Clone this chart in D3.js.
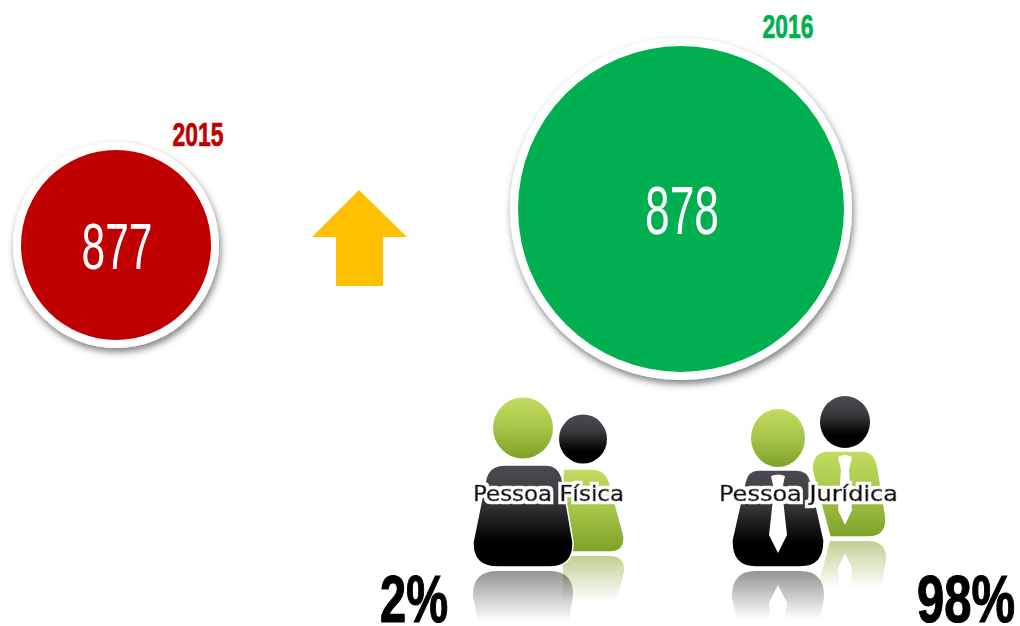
<!DOCTYPE html>
<meta charset="utf-8">
<style>
body { margin: 0; background: #fff; }
svg { display: block; }
.narrow { font-family: "Liberation Sans Narrow", "Liberation Sans", sans-serif; text-anchor: middle; }
.who { font-family: "DejaVu Sans", sans-serif; font-size: 22px; text-anchor: middle; fill: #111;
  stroke: #111; stroke-width: 0.7px; }
</style>
<svg width="1020" height="626" id="mysvg"></svg>
<script src="https://d3js.org/d3.v7.min.js"></script>
<script>

var years = ["2015", "2016"];
var totals = [877, 878];
var yearColors = ["#C00000", "#00B050"];
var people = ["Pessoa Física", "Pessoa Jurídica"];
var shares = ["2%", "98%"];

var svg = d3.select("svg");
var defs = svg.append("defs");

// circle position and size: the two circles are not really to scale in the picture
var x = d3.scaleOrdinal(years, [116, 681]);
var y = d3.scaleOrdinal(years, [245, 209]);
var r = d3.scaleLinear([877, 878], [95, 163]);

function gradient(id, stops) {
  var g = defs.append("linearGradient").attr("id", id)
    .attr("x1", 0).attr("y1", 0).attr("x2", 0).attr("y2", 1);
  stops.forEach(function(s) {
    g.append("stop").attr("offset", s[0]).attr("stop-color", s[1]).attr("stop-opacity", s[2] === undefined ? 1 : s[2]);
  });
}
gradient("dark", [[0, "#4b4a52"], [0.35, "#3a3a3e"], [0.75, "#000"], [1, "#000"]]);
gradient("green", [[0, "#c2dc60"], [0.45, "#a8c84a"], [1, "#7fa128"]]);
gradient("reflDark", [[0, "#000", 0], [0.5, "#000", 0], [1, "#000", 0.42]]);
gradient("reflGreen", [[0, "#7fa128", 0], [0.45, "#7fa128", 0], [1, "#7fa128", 0.5]]);

var shadow = defs.append("filter").attr("id", "shadow")
  .attr("x", "-20%").attr("y", "-20%").attr("width", "140%").attr("height", "140%");
shadow.append("feDropShadow").attr("dx", 1.5).attr("dy", 4).attr("stdDeviation", 3.5)
  .attr("flood-color", "#000").attr("flood-opacity", 0.5);

// white halo around the two people labels
var halo = defs.append("filter").attr("id", "halo")
  .attr("x", "-5%").attr("y", "-30%").attr("width", "110%").attr("height", "160%");
halo.append("feMorphology").attr("in", "SourceAlpha").attr("operator", "dilate").attr("radius", 3).attr("result", "fat");
halo.append("feFlood").attr("flood-color", "#fff");
halo.append("feComposite").attr("in2", "fat").attr("operator", "in").attr("result", "white");
var haloMerge = halo.append("feMerge");
haloMerge.append("feMergeNode").attr("in", "white");
haloMerge.append("feMergeNode").attr("in", "SourceGraphic");

// circles
var circles = svg.selectAll(".total").data(years).enter().append("g").attr("class", "total");

circles.append("circle")
  .attr("cx", function(d) { return x(d); })
  .attr("cy", function(d) { return y(d); })
  .attr("r", function(d, i) { return r(totals[i]) + 8; })
  .attr("fill", "#fff")
  .attr("filter", "url(#shadow)");

circles.append("circle")
  .attr("cx", function(d) { return x(d); })
  .attr("cy", function(d) { return y(d); })
  .attr("r", function(d, i) { return r(totals[i]); })
  .attr("fill", function(d, i) { return yearColors[i]; });

var totalWidth = [71, 74], totalBase = [269, 234], totalSize = [65, 69];
circles.append("text").attr("class", "narrow")
  .attr("x", function(d) { return x(d) + 1; })
  .attr("y", function(d, i) { return totalBase[i]; })
  .attr("font-size", function(d, i) { return totalSize[i]; })
  .attr("textLength", function(d, i) { return totalWidth[i]; })
  .attr("lengthAdjust", "spacingAndGlyphs")
  .attr("fill", "#fff")
  .text(function(d, i) { return totals[i]; });

var yearX = [198, 788], yearBase = [146, 38];
circles.append("text").attr("class", "narrow")
  .attr("x", function(d, i) { return yearX[i]; })
  .attr("y", function(d, i) { return yearBase[i]; })
  .attr("font-size", 33)
  .attr("font-weight", "bold")
  .attr("textLength", 51)
  .attr("lengthAdjust", "spacingAndGlyphs")
  .attr("fill", function(d, i) { return yearColors[i]; })
  .attr("stroke", function(d, i) { return yearColors[i]; })
  .attr("stroke-width", 0.7)
  .text(function(d) { return d; });

// arrow
svg.append("path")
  .attr("d", "M359,190L407,237H383V286H336V237H312Z")
  .attr("fill", "#FFC000");

// icons
function reflect(path, mirror, fill) {
  svg.append("path").attr("d", path)
    .attr("transform", "translate(0," + (2 * mirror) + ") scale(1,-1)")
    .attr("fill", fill);
}
function part(path, fill) {
  svg.append("path").attr("d", path).attr("fill", fill).attr("stroke", "#fff").attr("stroke-width", 1.5);
}
function head(cx, cy, rx, ry, fill) {
  svg.append("ellipse").attr("cx", cx).attr("cy", cy).attr("rx", rx).attr("ry", ry).attr("fill", fill);
}

// pessoa fisica
var backF = "M563,469H592Q606,469 610,484L624,536Q625,552 610,552H563Z";
var frontF = "M505,465H546Q558,465 562,478L573,542Q574,567 549,567H498Q472,567 473,542L486,478Q490,465 505,465Z";
reflect(backF, 554, "url(#reflGreen)");
reflect(frontF, 569, "url(#reflDark)");
part(backF, "url(#green)");
head(583, 439, 24, 24.5, "url(#dark)");
part(frontF, "url(#dark)");
head(523, 428, 30, 30.5, "url(#green)");

// pessoa juridica
var backJ = "M828,451H862Q875,451 878,468L886,518Q887,537 868,537H830L812,470Q812,451 828,451Z";
var frontJ = "M758,470H797Q808,470 811,482L824,540Q825,567 800,567H756Q731,567 732,540L745,482Q748,470 758,470Z";
var tieBack = "M838,457Q845,453 852,457L849,470L852,510L845,525L838,510L841,470Z";
var tieFront = "M771,476Q778,473 785,476L782,490L787,535L778,553L769,535L774,490Z";
reflect(backJ, 539, "url(#reflGreen)");
reflect(tieBack, 539, "#fff");
reflect(frontJ, 569, "url(#reflDark)");
reflect(tieFront, 569, "#fff");
part(backJ, "url(#green)");
svg.append("path").attr("d", tieBack).attr("fill", "#fff");
head(845, 422, 25, 26, "url(#dark)");
part(frontJ, "url(#dark)");
svg.append("path").attr("d", tieFront).attr("fill", "#fff");
head(778, 438, 27, 29, "url(#green)");

// labels
var whoX = [548.5, 808.5], whoWidth = [151, 179];
svg.selectAll(".who").data(people).enter().append("text").attr("class", "who")
  .attr("x", function(d, i) { return whoX[i]; })
  .attr("y", 501)
  .attr("textLength", function(d, i) { return whoWidth[i]; })
  .attr("lengthAdjust", "spacingAndGlyphs")
  .attr("filter", "url(#halo)")
  .text(function(d) { return d; });

var shareX = [414, 966], shareWidth = [68, 98];
svg.selectAll(".share").data(shares).enter().append("text").attr("class", "narrow share")
  .attr("x", function(d, i) { return shareX[i]; })
  .attr("y", 622)
  .attr("font-size", 66)
  .attr("font-weight", "bold")
  .attr("textLength", function(d, i) { return shareWidth[i]; })
  .attr("lengthAdjust", "spacingAndGlyphs")
  .attr("fill", "#000")
  .attr("stroke", "#000")
  .attr("stroke-width", 1.2)
  .text(function(d) { return d; });

</script>
